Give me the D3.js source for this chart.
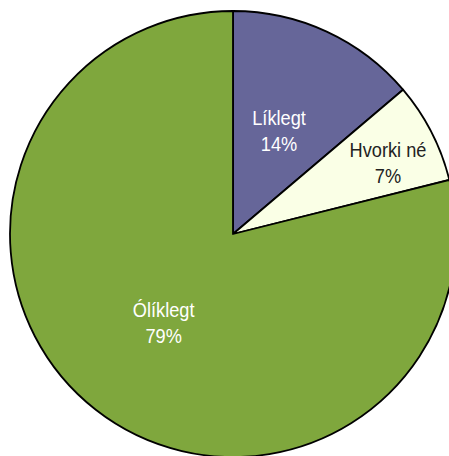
<!DOCTYPE html>
<html><head><meta charset="utf-8">
<script src="https://cdn.jsdelivr.net/npm/d3@7"></script>
<style>html,body{margin:0;padding:0;background:#fff;overflow:hidden}</style>
</head><body>
<svg id="c" width="449" height="456"></svg>
<script>
const categories = ["Líklegt", "Hvorki né", "Ólíklegt"];
const values = [13.8, 7.3, 78.9];
const labels = ["14%", "7%", "79%"];
const colors = ["#666699", "#FAFFE6", "#7FA73D"];
const textColors = ["#ffffff", "#222222", "#ffffff"];

const svg = d3.select("#c");
const cx = 233, cy = 234, R = 223;
const g = svg.append("g").attr("transform", `translate(${cx},${cy})`);
const pie = d3.pie().sort(null).value(d => d)(values);
const arc = d3.arc().innerRadius(0).outerRadius(R);
g.selectAll("path").data(pie).enter().append("path")
  .attr("d", arc)
  .attr("fill", (d, i) => colors[i])
  .attr("stroke", "#000").attr("stroke-width", 1.8).attr("stroke-linejoin", "round");

// label placement: radius fraction and angular nudge (degrees)
const labelR = [0.506, 0.765, 0.505];
const labelNudge = [-0.75, 2.5, 0];
pie.forEach((d, i) => {
  const a = (d.startAngle + d.endAngle) / 2 + labelNudge[i] * Math.PI / 180;
  const r = R * labelR[i];
  const x = r * Math.sin(a), y = -r * Math.cos(a);
  const t = g.append("text")
    .attr("transform", `translate(${x},${y}) scale(0.91,1)`)
    .attr("text-anchor", "middle")
    .attr("font-family", "'Liberation Sans', Arial, sans-serif")
    .attr("font-size", 20)
    .attr("fill", textColors[i]);
  t.append("tspan").attr("x", 0).attr("y", -6).text(categories[i]);
  t.append("tspan").attr("x", 0).attr("y", 20).text(labels[i]);
});
</script>
</body></html>
